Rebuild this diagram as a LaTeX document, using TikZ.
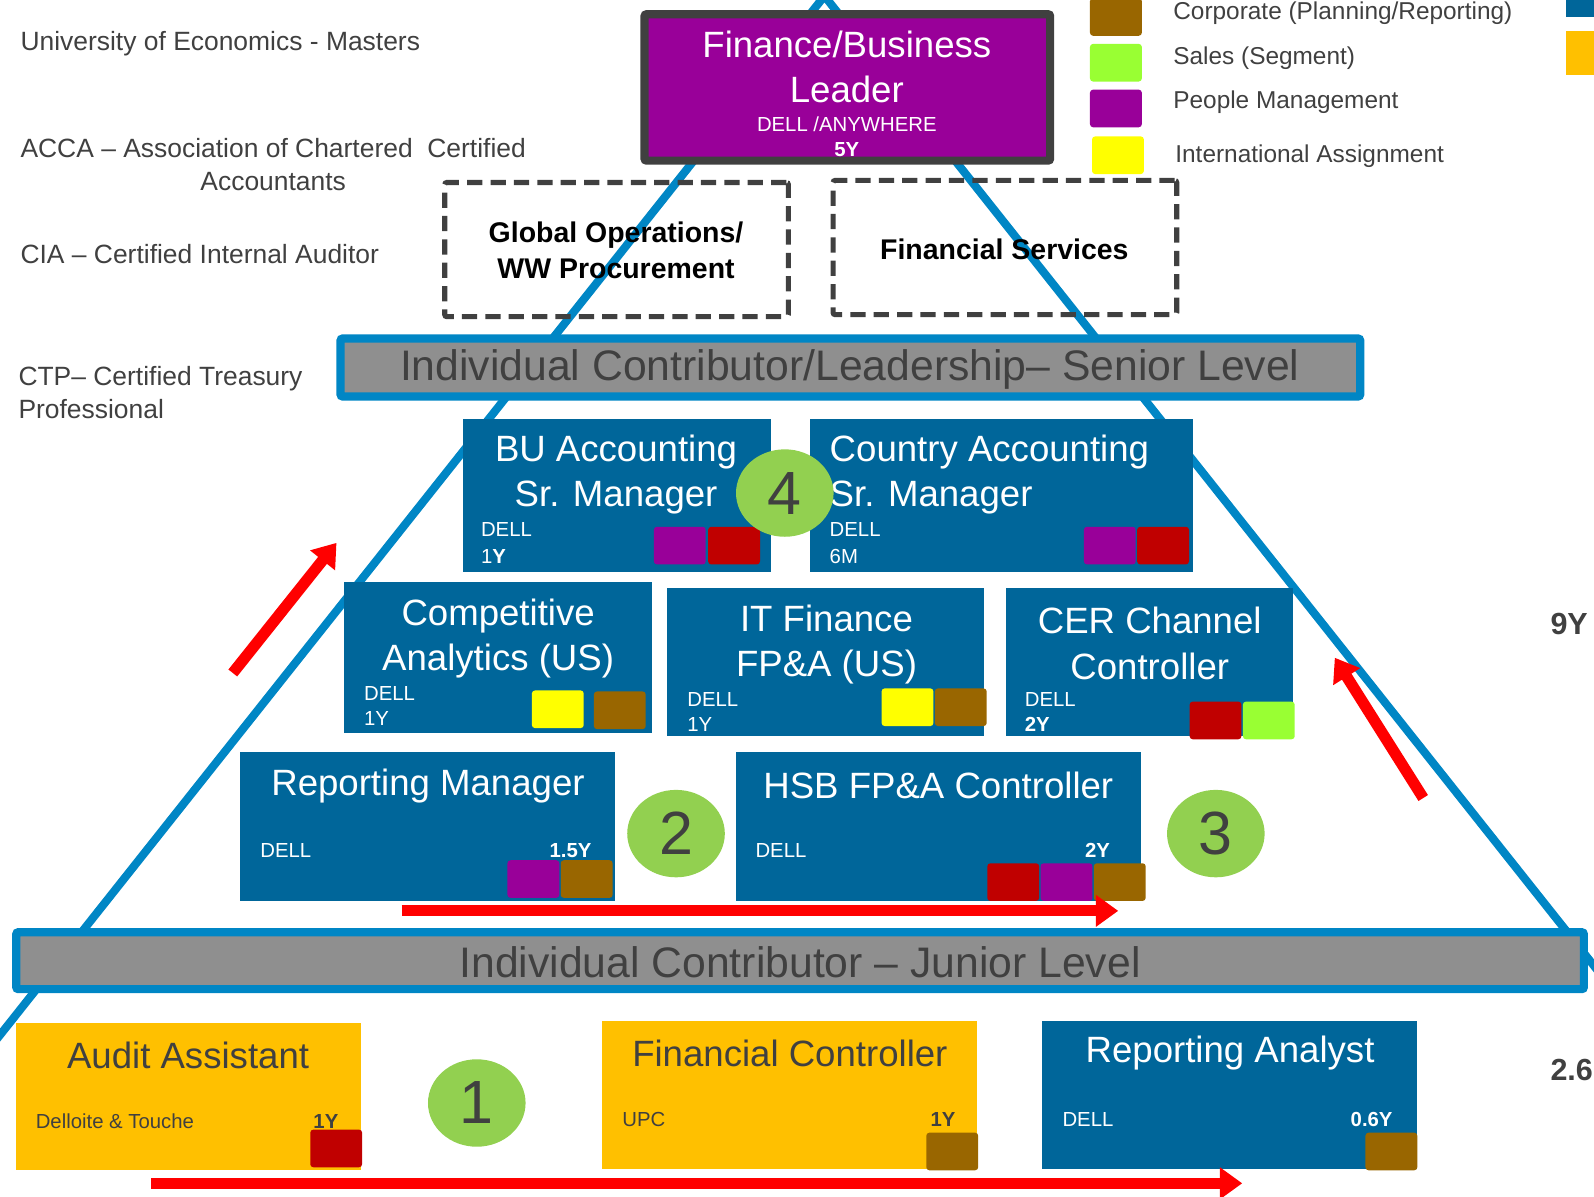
\documentclass[tikz,border=0pt]{standalone}
\usepackage{fontspec}
\setmainfont{Liberation Sans}
\usetikzlibrary{arrows.meta,positioning,shapes.geometric}

\definecolor{dellblue}{HTML}{00669A}
\definecolor{pyrblue}{HTML}{0086C5}
\definecolor{bargray}{HTML}{8F8F8F}
\definecolor{inkgray}{HTML}{404040}
\definecolor{corpbrown}{HTML}{996600}
\definecolor{salesgreen}{HTML}{99FF33}
\definecolor{peoplepurple}{HTML}{990099}
\definecolor{intlyellow}{HTML}{FFFF00}
\definecolor{auditred}{HTML}{C00000}
\definecolor{extorange}{HTML}{FFC000}
\definecolor{stepgreen}{HTML}{92D050}

\tikzset{
  pyramid/.style={draw=pyrblue, line width=8pt, line join=miter},
  levelbar/.style={draw=pyrblue, fill=bargray, line width=8pt, rounded corners=2pt, anchor=north west, inner sep=0pt},
  leveltext/.style={text=inkgray, font=\fontsize{42}{50}\selectfont, inner sep=0pt},
  jobbox/.style={fill=dellblue, anchor=north west, inner sep=0pt},
  extbox/.style={fill=extorange, anchor=north west, inner sep=0pt},
  functionbox/.style={draw=inkgray, dash pattern=on 15pt off 8pt, line width=5pt, rounded corners=2pt, anchor=north west, inner sep=0pt},
  functiontext/.style={font=\fontsize{28}{35}\selectfont\bfseries, align=center, inner sep=0pt},
  jobtitle/.style={text=white, font=\fontsize{36}{44.5}\selectfont, align=center, inner sep=0pt},
  jobinfo/.style={text=white, font=\fontsize{20}{25}\selectfont, anchor=west, inner sep=0pt},
  jobyears/.style={text=white, font=\fontsize{20}{25}\selectfont\bfseries, anchor=east, inner sep=0pt},
  tag/.style={rounded corners=3pt, minimum width=51pt, minimum height=37pt, anchor=north west, inner sep=0pt},
  stepnum/.style={ellipse, fill=stepgreen, minimum width=96pt, minimum height=86pt, inner sep=0pt, text=inkgray, font=\fontsize{60}{60}\selectfont},
  note/.style={text=inkgray, font=\fontsize{26}{32}\selectfont, anchor=west, inner sep=0pt},
  legendtext/.style={text=inkgray, font=\fontsize{24}{28}\selectfont, anchor=west, inner sep=0pt},
  totaltext/.style={text=inkgray, font=\fontsize{30}{36}\selectfont\bfseries, anchor=west, inner sep=0pt},
  progress/.style={draw=red, line width=11pt, -{Triangle[width=30pt,length=22pt]}},
}

\begin{document}
\begin{tikzpicture}[x=1pt, y=-1pt]
\useasboundingbox (0,0) rectangle (1568,1177);
\clip (0,0) rectangle (1568,1177);

% pyramid outline
\coordinate (apex) at (811,-4);
\coordinate (base west) at (-126,1177);
\coordinate (base east) at (1748,1177);
\draw[pyramid] (base west) -- (apex) -- (base east);

% top
\node[draw=inkgray, line width=8pt, fill=peoplepurple, rounded corners=2pt, anchor=north west, inner sep=0pt,
      minimum width=399pt, minimum height=144pt] (leader) at (630,10) {};
\node[jobtitle] (leader title) at (833,66) {Finance/Business\\Leader};
\node[jobinfo, anchor=center] (leader company) at (833,122) {DELL /ANYWHERE};
\node[jobyears, anchor=center] (leader years) at (833,147) {5Y};

% legend
\node[tag, fill=corpbrown] (key corp) at (1072,-2) {};
\node[tag, fill=salesgreen] (key sales) at (1072,43) {};
\node[tag, fill=peoplepurple] (key people) at (1072,88) {};
\node[tag, fill=intlyellow] (key intl) at (1074,134) {};
\node[legendtext] (key corp text) at (1154,13) {Corporate (Planning/Reporting)};
\node[legendtext] (key sales text) at (1154,57) {Sales (Segment)};
\node[legendtext] (key people text) at (1154,101) {People Management};
\node[legendtext] (key intl text) at (1156,154) {International Assignment};
\node[fill=dellblue, anchor=north west, inner sep=0pt, minimum width=40pt, minimum height=18pt] (key dell) at (1540,-1) {};
\node[fill=extorange, anchor=north west, inner sep=0pt, minimum width=40pt, minimum height=44pt] (key ext) at (1540,30) {};

% education
\node[note] (edu masters) at (20,43) {University of Economics - Masters};
\node[note, align=center] (edu acca) at (20,162) {ACCA – Association of Chartered\ \ Certified\\Accountants};
\node[note] (edu cia) at (20,250) {CIA – Certified Internal Auditor};
\node[note, align=left] (edu ctp) at (18,386) {CTP– Certified Treasury\\Professional};

% functions
\node[functionbox, minimum width=338pt, minimum height=132pt] (global ops) at (435,177) {};
\node[functiontext] (global ops text) at (606,246) {Global Operations/\\WW Procurement};
\node[functionbox, minimum width=338pt, minimum height=132pt] (fin services) at (817,175) {};
\node[functiontext] (fin services text) at (988,245) {Financial Services};

% senior level
\node[levelbar, minimum width=1003pt, minimum height=57pt] (senior bar) at (331,329) {};
\node[leveltext] (senior text) at (836,363) {Individual Contributor/Leadership– Senior Level};

\node[jobbox, minimum width=303pt, minimum height=150pt] (bu acc) at (455,412) {};
\node[jobtitle] (bu acc title) at (606,467) {BU Accounting\\Sr. Manager};
\node[jobinfo] (bu acc company) at (473,521) {DELL};
\node[jobinfo] (bu acc years) at (473,547) {1\textbf{Y}};
\node[tag, fill=peoplepurple] (bu acc tag1) at (643,518) {};
\node[tag, fill=auditred, right=2pt of bu acc tag1] (bu acc tag2) {};

\node[jobbox, minimum width=376pt, minimum height=150pt] (country acc) at (797,412) {};
\node[jobtitle, align=left, anchor=west] (country acc title) at (816,467) {Country Accounting\\Sr. Manager};
\node[jobinfo] (country acc company) at (816,521) {DELL};
\node[jobinfo] (country acc years) at (816,547) {6M};
\node[tag, fill=peoplepurple] (country acc tag1) at (1066,518) {};
\node[tag, fill=auditred, right=1pt of country acc tag1] (country acc tag2) {};

\node[stepnum] (step four) at (772,485) {4};

\node[jobbox, minimum width=303pt, minimum height=149pt] (comp an) at (338,572) {};
\node[jobtitle] (comp an title) at (490,628) {Competitive\\Analytics (US)};
\node[jobinfo] (comp an company) at (358,682) {DELL};
\node[jobinfo] (comp an years) at (358,707) {1Y};
\node[tag, fill=intlyellow] (comp an tag1) at (523,679) {};
\node[tag, fill=corpbrown] (comp an tag2) at (584,680) {};

\node[jobbox, minimum width=312pt, minimum height=146pt] (it fin) at (656,578) {};
\node[jobtitle] (it fin title) at (813,634) {IT Finance\\FP\&A (US)};
\node[jobinfo] (it fin company) at (676,688) {DELL};
\node[jobinfo] (it fin years) at (676,713) {1Y};
\node[tag, fill=intlyellow] (it fin tag1) at (867,677) {};
\node[tag, fill=corpbrown, right=1pt of it fin tag1] (it fin tag2) {};

\node[jobbox, minimum width=283pt, minimum height=146pt] (cer ch) at (989,578) {};
\node[jobtitle] (cer ch title) at (1131,633) {CER Channel\\Controller};
\node[jobinfo] (cer ch company) at (1008,688) {DELL};
\node[jobinfo, font=\fontsize{20}{25}\selectfont\bfseries] (cer ch years) at (1008,713) {2Y};
\node[tag, fill=auditred] (cer ch tag1) at (1170,690) {};
\node[tag, fill=salesgreen, right=1pt of cer ch tag1] (cer ch tag2) {};

\node[jobbox, minimum width=369pt, minimum height=146pt] (rep mgr) at (236,740) {};
\node[jobtitle] (rep mgr title) at (421,773) {Reporting Manager};
\node[jobinfo] (rep mgr company) at (256,837) {DELL};
\node[jobyears] (rep mgr years) at (582,837) {1.5Y};
\node[tag, fill=peoplepurple] (rep mgr tag1) at (499,846) {};
\node[tag, fill=corpbrown, right=1pt of rep mgr tag1] (rep mgr tag2) {};

\node[jobbox, minimum width=398pt, minimum height=146pt] (hsb) at (724,740) {};
\node[jobtitle] (hsb title) at (923,773) {HSB FP\&A Controller};
\node[jobinfo] (hsb company) at (743,837) {DELL};
\node[jobyears] (hsb years) at (1092,837) {2Y};
\node[tag, fill=auditred] (hsb tag1) at (971,849) {};
\node[tag, fill=peoplepurple, right=1pt of hsb tag1] (hsb tag2) {};
\node[tag, fill=corpbrown, right=1pt of hsb tag2] (hsb tag3) {};

\node[stepnum] (step two) at (665,820) {2};
\node[stepnum] (step three) at (1196,820) {3};

% junior level
\node[levelbar, minimum width=1542pt, minimum height=56pt] (junior bar) at (12,913) {};
\node[leveltext] (junior text) at (787,947) {Individual Contributor – Junior Level};

\node[extbox, minimum width=339pt, minimum height=145pt] (audit) at (16,1006) {};
\node[jobtitle, text=inkgray] (audit title) at (185,1038) {Audit Assistant};
\node[jobinfo, text=inkgray] (audit company) at (35,1103) {Delloite \& Touche};
\node[jobyears, text=inkgray] (audit years) at (333,1103) {1Y};
\node[tag, fill=auditred] (audit tag1) at (305,1111) {};

\node[extbox, minimum width=369pt, minimum height=146pt] (fin ctrl) at (592,1004) {};
\node[jobtitle, text=inkgray] (fin ctrl title) at (777,1036) {Financial Controller};
\node[jobinfo, text=inkgray] (fin ctrl company) at (612,1101) {UPC};
\node[jobyears, text=inkgray] (fin ctrl years) at (940,1101) {1Y};
\node[tag, fill=corpbrown] (fin ctrl tag1) at (911,1114) {};

\node[jobbox, minimum width=369pt, minimum height=146pt] (rep an) at (1025,1004) {};
\node[jobtitle] (rep an title) at (1210,1036) {Reporting Analyst};
\node[jobinfo] (rep an company) at (1045,1101) {DELL};
\node[jobyears] (rep an years) at (1370,1101) {0.6Y};
\node[tag, fill=corpbrown] (rep an tag1) at (1343,1114) {};

\node[stepnum] (step one) at (469,1085) {1};

% totals
\node[totaltext] (total senior) at (1525,614) {9Y};
\node[totaltext] (total junior) at (1525,1053) {2.6};

% progression arrows
\coordinate (climb start) at (149,1164);
\coordinate (climb end) at (1222,1164);
\coordinate (move start) at (395,896);
\coordinate (move end) at (1100,896);
\coordinate (rise west start) at (229,662);
\coordinate (rise west end) at (331,534);
\coordinate (rise east start) at (1400,785);
\coordinate (rise east end) at (1313,647);
\draw[progress] (climb start) -- (climb end);
\draw[progress] (move start) -- (move end);
\draw[progress] (rise west start) -- (rise west end);
\draw[progress] (rise east start) -- (rise east end);
\end{tikzpicture}
\end{document}
